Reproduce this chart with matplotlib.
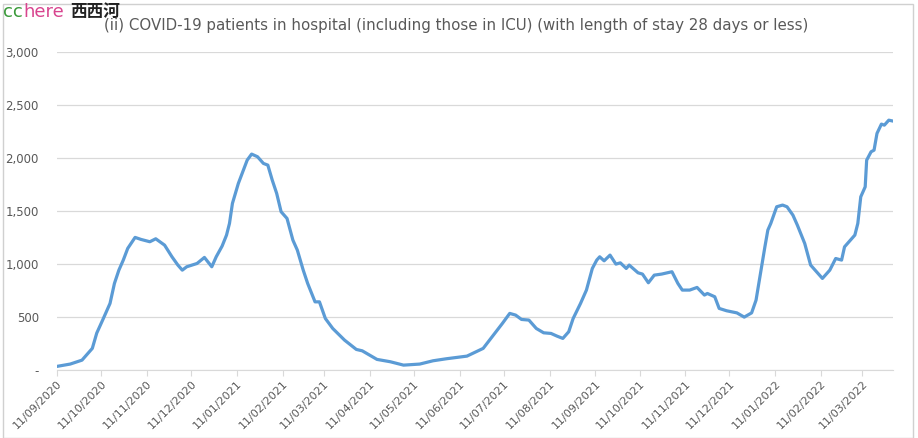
import matplotlib
matplotlib.use("Agg")
import matplotlib.pyplot as plt
import matplotlib.dates as mdates
from matplotlib.ticker import FuncFormatter
from matplotlib.patches import Rectangle
import pandas as pd

# values
dates = [
    "2020-09-11", "2020-09-20", "2020-09-28", "2020-10-05", "2020-10-08", "2020-10-12",
    "2020-10-17", "2020-10-20", "2020-10-23", "2020-10-26", "2020-10-29", "2020-11-03",
    "2020-11-07", "2020-11-13", "2020-11-17", "2020-11-23", "2020-11-28", "2020-12-02",
    "2020-12-05", "2020-12-08", "2020-12-15", "2020-12-20", "2020-12-25", "2020-12-28",
    "2021-01-01", "2021-01-04", "2021-01-06", "2021-01-08", "2021-01-12", "2021-01-15",
    "2021-01-18", "2021-01-21", "2021-01-25", "2021-01-29", "2021-02-01", "2021-02-04",
    "2021-02-07", "2021-02-10", "2021-02-14", "2021-02-18", "2021-02-21", "2021-02-25",
    "2021-02-28", "2021-03-05", "2021-03-08", "2021-03-12", "2021-03-17", "2021-03-25",
    "2021-04-02", "2021-04-06", "2021-04-16", "2021-04-25", "2021-05-04", "2021-05-15",
    "2021-05-24", "2021-06-02", "2021-06-16", "2021-06-27", "2021-07-03", "2021-07-10",
    "2021-07-15", "2021-07-19", "2021-07-23", "2021-07-28", "2021-08-02", "2021-08-07",
    "2021-08-12", "2021-08-16", "2021-08-20", "2021-08-24", "2021-08-27", "2021-09-01",
    "2021-09-05", "2021-09-09", "2021-09-12", "2021-09-14", "2021-09-17", "2021-09-21",
    "2021-09-25", "2021-09-28", "2021-10-02", "2021-10-04", "2021-10-10", "2021-10-13",
    "2021-10-17", "2021-10-21", "2021-10-26", "2021-10-30", "2021-11-02", "2021-11-06",
    "2021-11-09", "2021-11-14", "2021-11-19", "2021-11-24", "2021-11-26", "2021-12-01",
    "2021-12-04", "2021-12-09", "2021-12-16", "2021-12-21", "2021-12-26", "2021-12-29",
    "2022-01-01", "2022-01-04", "2022-01-06", "2022-01-08", "2022-01-12", "2022-01-16",
    "2022-01-19", "2022-01-23", "2022-01-26", "2022-01-31", "2022-02-04", "2022-02-08",
    "2022-02-12", "2022-02-17", "2022-02-21", "2022-02-25", "2022-02-27", "2022-03-02",
    "2022-03-06", "2022-03-08", "2022-03-10", "2022-03-13", "2022-03-14", "2022-03-17",
    "2022-03-19", "2022-03-21", "2022-03-24", "2022-03-26", "2022-03-29", "2022-03-31",
]
patients = [
    35, 57, 94, 205, 349, 472,
    629, 818, 943, 1038, 1148, 1252,
    1233, 1211, 1239, 1179, 1069, 991,
    943, 975, 1006, 1063, 975, 1069,
    1170, 1274, 1384, 1573, 1761, 1871,
    1981, 2038, 2013, 1950, 1934, 1792,
    1667, 1494, 1431, 1226, 1132, 943,
    818, 644, 644, 487, 393, 283,
    195, 182, 101, 79, 47, 57,
    88, 107, 132, 205, 314, 440,
    535, 519, 478, 472, 393, 352,
    346, 321, 299, 362, 487, 629,
    755, 959, 1038, 1069, 1031, 1085,
    1000, 1012, 959, 991, 918, 906,
    824, 896, 906, 918, 928, 818,
    755, 755, 780, 708, 723, 692,
    582, 560, 540, 500, 540, 660,
    912, 1163, 1321, 1384, 1541, 1557,
    1541, 1462, 1368, 1195, 991, 928,
    865, 943, 1053, 1038, 1163, 1211,
    1274, 1384, 1635, 1729, 1981, 2060,
    2075, 2233, 2321, 2311, 2358, 2352,
]
tick_dates = pd.date_range("2020-09-01", "2022-03-01", freq="MS") + pd.Timedelta(days=10)
title = "(ii) COVID-19 patients in hospital (including those in ICU) (with length of stay 28 days or less)"

grey = "#595959"
fig = plt.figure(figsize=(9.18, 4.38), dpi=100)
ax = fig.add_axes([0.062, 0.155, 0.911, 0.726])

ax.plot(pd.to_datetime(dates), patients, color="#5B9BD5", linewidth=2.3, solid_joinstyle="round")

ax.set_xlim(pd.Timestamp("2020-09-11"), pd.Timestamp("2022-04-01"))
ax.set_ylim(0, 3000)
ax.set_yticks(range(0, 3001, 500))
ax.yaxis.set_major_formatter(FuncFormatter(lambda v, _: "-" if v == 0 else f"{int(v):,}"))
ax.set_xticks(tick_dates)
ax.xaxis.set_major_formatter(mdates.DateFormatter("%d/%m/%Y"))
plt.setp(ax.get_xticklabels(), rotation=45, ha="right", rotation_mode="anchor")

ax.grid(axis="y", color="#d9d9d9", linewidth=0.9)
ax.set_axisbelow(True)
for side in ("top", "right", "left"):
    ax.spines[side].set_visible(False)
ax.spines["bottom"].set_color("#d9d9d9")
ax.tick_params(axis="y", length=0, labelsize=8.5, labelcolor=grey, pad=13)
ax.tick_params(axis="x", length=4, color="#d9d9d9", labelsize=8, labelcolor=grey, pad=2)

fig.text(0.497, 0.942, title, ha="center", va="center", fontsize=10.8, color=grey)

# watermark
fig.text(0.003, 0.972, "cc", color="#3a9a3a", fontsize=13, va="center")
fig.text(0.026, 0.972, "here", color="#d8458f", fontsize=13, va="center")
fig.text(0.076, 0.972, "西西河", color="#222222", fontsize=12, fontweight="bold",
         va="center", family=["Noto Sans CJK SC", "DejaVu Sans"])

fig.patches.append(Rectangle((0.003, 0.0), 0.992, 0.99, transform=fig.transFigure,
                             fill=False, edgecolor="#d0d0d0", linewidth=1))

fig.savefig("out.png", dpi=100)
